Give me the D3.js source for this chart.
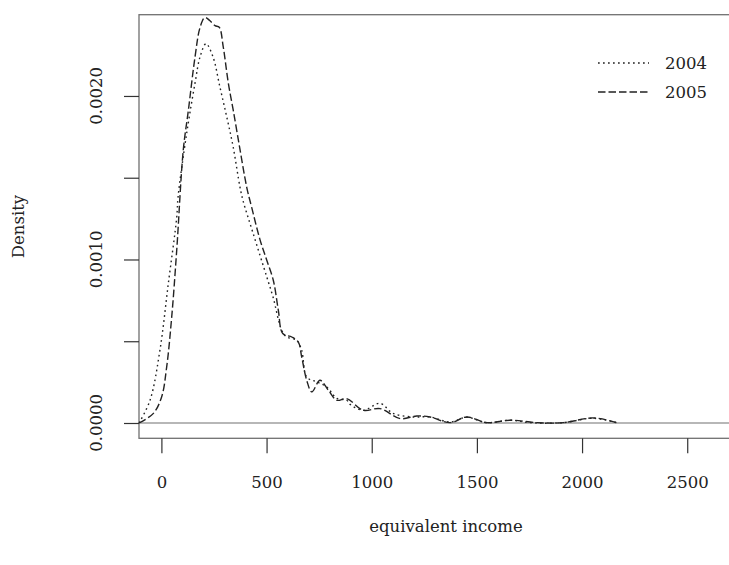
<!DOCTYPE html>
<html>
<head>
<meta charset="utf-8">
<script src="https://cdn.jsdelivr.net/npm/d3@7"></script>
<style>
  body { margin: 0; background: #fff; }
  svg { display: block; }
  text { font-family: "DejaVu Serif", serif; fill: #222; }
</style>
</head>
<body>
<svg id="chart" width="729" height="565"></svg>
<script>
// density of equivalent income
var income2004 = [-106, -54, -7, 33, 73, 79, 120, 160, 184, 212, 245, 279, 311, 341, 374, 388, 436, 501, 531, 572, 596, 643, 667, 691, 739, 786, 834, 881, 897, 959, 1040, 1101, 1196, 1277, 1373, 1452, 1547, 1658, 1753, 1910, 2052, 2165];
var density2004 = [0, 0.000139, 0.000445, 0.000854, 0.00126, 0.00138, 0.00177, 0.00208, 0.00224, 0.00232, 0.00224, 0.00205, 0.00187, 0.00169, 0.00144, 0.00136, 0.00116, 0.000893, 0.000769, 0.000567, 0.000526, 0.000506, 0.000445, 0.000281, 0.000251, 0.00022, 0.000151, 0.000139, 0.000114, 0.000078, 0.00012, 0.000059, 0.000037, 0.000037, 0.000006, 0.000035, 0.000002, 0.000017, 0.000002, 0.000002, 0.000029, 0.000002];

var income2005 = [-106, -38, 1, 25, 49, 73, 104, 128, 160, 184, 207, 231, 255, 275, 294, 318, 342, 374, 406, 429, 469, 501, 532, 556, 577, 620, 651, 667, 691, 715, 754, 794, 834, 881, 960, 1040, 1135, 1214, 1277, 1373, 1452, 1547, 1658, 1786, 1911, 2054, 2165];
var density2005 = [0, 0.000059, 0.000159, 0.000342, 0.000648, 0.00106, 0.00167, 0.00191, 0.00224, 0.00242, 0.00248, 0.00246, 0.00243, 0.00242, 0.0023, 0.00208, 0.00191, 0.00167, 0.00144, 0.00132, 0.00112, 0.000995, 0.000873, 0.000689, 0.000547, 0.000526, 0.000495, 0.000404, 0.000261, 0.00019, 0.000261, 0.0002, 0.000139, 0.000149, 0.000078, 0.000088, 0.000027, 0.000043, 0.000037, 0.000002, 0.000037, 0.000002, 0.000017, 0.000002, 0.000002, 0.000031, 0.000002];

var xTicks = [0, 500, 1000, 1500, 2000, 2500];
var yTicks = [0, 0.0005, 0.001, 0.0015, 0.002];
var yLabels = [0, 0.001, 0.002];
var years = ["2004", "2005"];
var dashes = ["1.7,3.3", "7.5,3"];

!function(){
	var svg = d3.select("#chart");
	var pLeft = 139, pTop = 14.7, pBottom = 438.3, pRight = 760;
	var fs = "16.5px";

	var x = d3.scaleLinear().domain([-106.5, 2846]).range([pLeft, pRight]);
	var y = d3.scaleLinear().domain([-0.0000936, 0.002497]).range([pBottom, pTop]);

	// plot frame (right side falls outside the picture)
	svg.append("rect")
		.attr("x", pLeft).attr("y", pTop)
		.attr("width", pRight - pLeft).attr("height", pBottom - pTop)
		.attr("fill", "none").attr("stroke", "#707070").attr("stroke-width", 1.3);

	// x axis
	var xAxis = svg.append("g").attr("transform", "translate(0," + pBottom + ")")
		.call(d3.axisBottom(x).tickValues(xTicks).tickSize(15).tickSizeOuter(0).tickPadding(0).tickFormat(d3.format("d")));
	xAxis.select(".domain").remove();
	xAxis.selectAll(".tick line").attr("stroke", "#333").attr("stroke-width", 1.2);
	xAxis.selectAll(".tick text")
		.attr("y", 50).attr("dy", null)
		.style("font-size", fs).style("font-family", "DejaVu Serif").attr("fill", "#222");

	// y axis, labels rotated like base R
	var yAxis = svg.append("g").attr("transform", "translate(" + pLeft + ",0)")
		.call(d3.axisLeft(y).tickValues(yTicks).tickSize(15).tickSizeOuter(0).tickFormat(""));
	yAxis.select(".domain").remove();
	yAxis.selectAll(".tick line").attr("stroke", "#333").attr("stroke-width", 1.2);

	svg.append("g").selectAll("text").data(yLabels).enter().append("text")
		.attr("transform", function(d){ return "translate(101.5," + y(d) + ")rotate(-90)"; })
		.attr("text-anchor", "middle")
		.style("font-size", fs)
		.text(function(d){ return d3.format(".4f")(d); });

	// zero line
	svg.append("line")
		.attr("x1", pLeft).attr("x2", pRight)
		.attr("y1", y(0)).attr("y2", y(0))
		.attr("stroke", "#707070").attr("stroke-width", 1.2);

	// density curves
	var series = [
		{income: income2004, density: density2004},
		{income: income2005, density: density2005}
	];
	var line = d3.line()
		.x(function(d){ return x(d[0]); })
		.y(function(d){ return y(d[1]); })
		.curve(d3.curveCatmullRom.alpha(0.5));

	series.forEach(function(s, i){
		var pts = s.income.map(function(v, j){ return [v, s.density[j]]; });
		svg.append("path")
			.datum(pts)
			.attr("d", line)
			.attr("fill", "none")
			.attr("stroke", "#222")
			.attr("stroke-width", 1.4)
			.attr("stroke-dasharray", dashes[i]);
	});

	// legend
	var legendY = [63, 92];
	years.forEach(function(yr, i){
		svg.append("line")
			.attr("x1", 598).attr("x2", 649)
			.attr("y1", legendY[i]).attr("y2", legendY[i])
			.attr("stroke", "#222").attr("stroke-width", 1.4)
			.attr("stroke-dasharray", dashes[i]);
		svg.append("text")
			.attr("x", 665).attr("y", legendY[i] + 6)
			.style("font-size", fs)
			.text(yr);
	});

	// axis titles
	svg.append("text")
		.attr("x", 446).attr("y", 532)
		.attr("text-anchor", "middle")
		.style("font-size", fs)
		.text("equivalent income");

	svg.append("text")
		.attr("transform", "translate(24," + ((pTop + pBottom) / 2) + ")rotate(-90)")
		.attr("text-anchor", "middle")
		.style("font-size", fs)
		.text("Density");
}();
</script>
</body>
</html>
